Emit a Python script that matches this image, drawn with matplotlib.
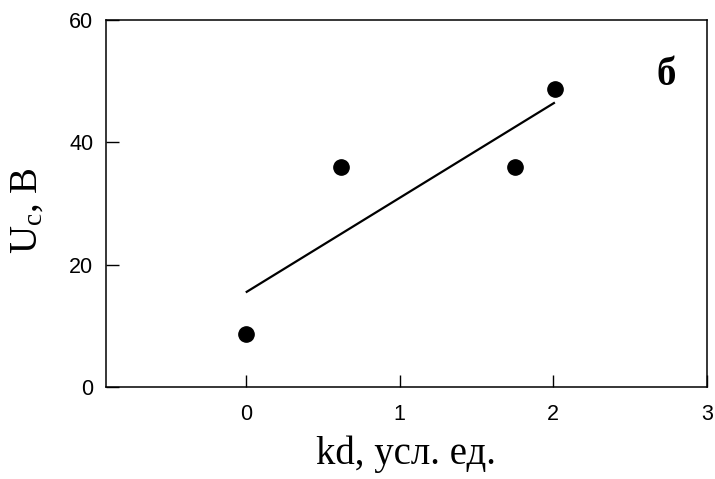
import numpy as np
import matplotlib
matplotlib.use("Agg")
import matplotlib.pyplot as plt

kd = [0.0, 0.617, 1.748, 2.01]
Uc = [8.7, 36.0, 36.0, 48.8]
xticks = [0, 1, 2, 3]
yticks = [0, 20, 40, 60]

plt.rcParams['mathtext.default'] = 'regular'

fig = plt.figure(figsize=(7.15, 4.79), dpi=100)
ax = fig.add_axes([0.148, 0.192, 0.841, 0.766])

coef = np.polyfit(kd, Uc, 1)
xf = np.array([min(kd), max(kd)])
ax.plot(xf, np.polyval(coef, xf), color='black', lw=1.6, solid_capstyle='butt')
ax.plot(kd, Uc, 'o', color='black', ms=11)

ax.set_xlim(-0.91, 3)
ax.set_ylim(0, 60)
ax.set_xticks(xticks)
ax.set_yticks(yticks)
ax.tick_params(direction='in', length=9, width=1, labelsize=15.5)
ax.tick_params(axis='y', pad=9)
ax.tick_params(axis='x', pad=12)
for lab in ax.get_xticklabels() + ax.get_yticklabels():
    lab.set_family('Liberation Sans')
for s in ax.spines.values():
    s.set_linewidth(1.1)

ax.set_xlabel('kd, усл. ед.', family='Liberation Serif', fontsize=28, labelpad=8)
ax.set_ylabel('U$_c$, В', family='Liberation Serif', fontsize=28, labelpad=8)
ax.yaxis.set_label_coords(-0.1, 0.48)
ax.text(0.932, 0.85, 'б', transform=ax.transAxes, family='Liberation Serif',
        fontsize=28, fontweight='bold', ha='center', va='center')

fig.savefig('out.png', dpi=100)
